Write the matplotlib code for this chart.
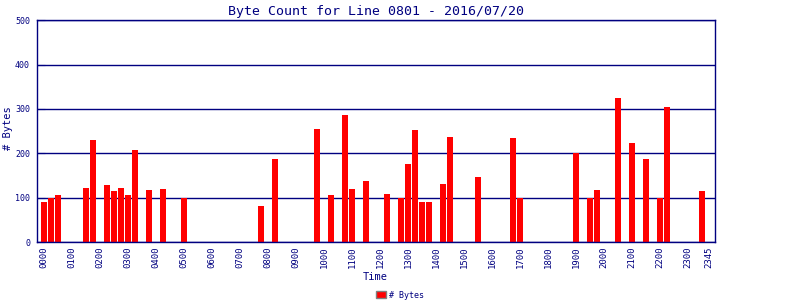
import matplotlib.pyplot as plt
from matplotlib.patches import Patch

NAVY = "#000080"

# 15-minute slots, 0000 .. 2345
slot_labels = [f"{h:02d}{m:02d}" for h in range(24) for m in (0, 15, 30, 45)]

# byte count per slot (4 per hour)
byte_counts = [
    90, 100, 106, 0,     # 00
    0, 0, 122, 230,      # 01
    0, 128, 115, 122,    # 02
    106, 207, 0, 117,    # 03
    0, 119, 0, 0,        # 04
    100, 0, 0, 0,        # 05
    0, 0, 0, 0,          # 06
    0, 0, 0, 81,         # 07
    0, 187, 0, 0,        # 08
    0, 0, 0, 254,        # 09
    0, 106, 0, 286,      # 10
    119, 0, 137, 0,      # 11
    0, 108, 0, 100,      # 12
    176, 252, 90, 90,    # 13
    0, 130, 236, 0,      # 14
    0, 0, 146, 0,        # 15
    0, 0, 0, 234,        # 16
    100, 0, 0, 0,        # 17
    0, 0, 0, 0,          # 18
    200, 0, 100, 117,    # 19
    0, 0, 324, 0,        # 20
    223, 0, 187, 0,      # 21
    100, 304, 0, 0,      # 22
    0, 0, 115, 0,        # 23
]

tick_slots = list(range(0, 96, 4)) + [95]
tick_labels = [slot_labels[i] for i in tick_slots]

plt.rcParams["font.family"] = "DejaVu Sans Mono"

fig = plt.figure(figsize=(8, 3), dpi=100)
ax = fig.add_axes([37 / 800, 58 / 300, 678.3 / 800, 221.7 / 300])

x = list(range(len(byte_counts)))
ax.bar(x, byte_counts, width=6 / 7, color="#ff0000", zorder=2)

ax.set_xlim(-1, 95.9)
ax.set_ylim(0, 500)
ax.set_yticks([0, 100, 200, 300, 400, 500])
ax.set_xticks(tick_slots)
ax.set_xticklabels(tick_labels, rotation=90, fontsize=6.5, color=NAVY)
ax.tick_params(axis="x", length=0, pad=3)
ax.tick_params(axis="y", direction="in", length=6, color=NAVY, labelsize=6,
               labelcolor=NAVY, pad=5)
ax.yaxis.grid(True, color=NAVY, linewidth=1)
ax.set_axisbelow(True)
for s in ax.spines.values():
    s.set_color(NAVY)
    s.set_linewidth(1)

ax.set_title("Byte Count for Line 0801 - 2016/07/20", fontsize=9.5,
             color=NAVY, pad=4)
fig.text(8 / 800, 1 - 128 / 300, "# Bytes", fontsize=7.5, color=NAVY,
         rotation=90, ha="center", va="center")
fig.text(375 / 800, 1 - 277 / 300, "Time", fontsize=7.5, color=NAVY,
         ha="center", va="center")

fig.legend(handles=[Patch(facecolor="#ff0000", edgecolor="#808080",
                          linewidth=1, label="# Bytes")],
           loc="center", bbox_to_anchor=(400 / 800, 1 - 295 / 300),
           frameon=False, fontsize=6, labelcolor=NAVY,
           handlelength=1.2, handleheight=1.0, handletextpad=0.4,
           borderpad=0)

fig.savefig("out.png", dpi=100)
